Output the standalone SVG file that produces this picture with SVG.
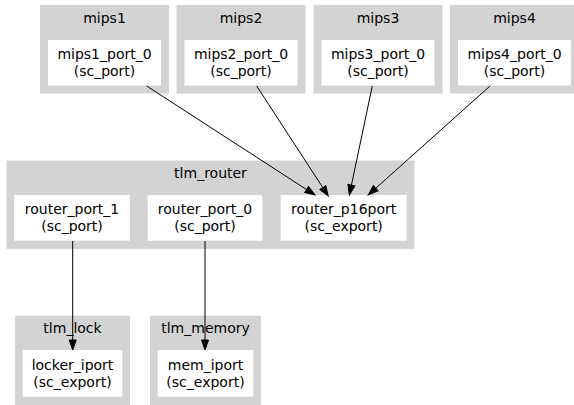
<svg xmlns="http://www.w3.org/2000/svg" width="574" height="405" viewBox="0 0 574 405">
  <style>
    .cluster { fill: #d3d3d3; stroke: none; }
    .port { fill: #ffffff; stroke: none; }
    text { font-family: "DejaVu Sans", "Liberation Sans", sans-serif; font-size: 14px; fill: #000000; text-anchor: middle; }
    .edge { fill: none; stroke: #000000; stroke-width: 1; }
  </style>
  <defs>
    <marker id="arrow" markerUnits="userSpaceOnUse" markerWidth="10" markerHeight="7" viewBox="0 -3.5 10 7" refX="0" refY="0" orient="auto" overflow="visible">
      <path d="M0,-3.5 L10,0 L0,3.5 z" fill="#000000" stroke="#000000" stroke-width="1"/>
    </marker>
  </defs>

  <!-- processor modules -->
  <g id="mips1">
    <rect class="cluster" x="40" y="5" width="129" height="88.5"/>
    <text x="104.5" y="23">mips1</text>
    <g id="mips1_port_0">
      <rect class="port" x="48" y="40" width="113" height="45.5"/>
      <text x="104.5" y="59.3">mips1_port_0</text>
      <text x="104.5" y="76">(sc_port)</text>
    </g>
  </g>
  <g id="mips2">
    <rect class="cluster" x="176.5" y="5" width="129" height="88.5"/>
    <text x="241" y="23">mips2</text>
    <g id="mips2_port_0">
      <rect class="port" x="184.5" y="40" width="113" height="45.5"/>
      <text x="241" y="59.3">mips2_port_0</text>
      <text x="241" y="76">(sc_port)</text>
    </g>
  </g>
  <g id="mips3">
    <rect class="cluster" x="313.5" y="5" width="129" height="88.5"/>
    <text x="378" y="23">mips3</text>
    <g id="mips3_port_0">
      <rect class="port" x="321.5" y="40" width="113" height="45.5"/>
      <text x="378" y="59.3">mips3_port_0</text>
      <text x="378" y="76">(sc_port)</text>
    </g>
  </g>
  <g id="mips4">
    <rect class="cluster" x="450" y="5" width="129" height="88.5"/>
    <text x="514.5" y="23">mips4</text>
    <g id="mips4_port_0">
      <rect class="port" x="458" y="40" width="113" height="45.5"/>
      <text x="514.5" y="59.3">mips4_port_0</text>
      <text x="514.5" y="76">(sc_port)</text>
    </g>
  </g>

  <!-- router -->
  <g id="tlm_router">
    <rect class="cluster" x="6.5" y="160.5" width="408" height="88.5"/>
    <text x="210.5" y="177.5">tlm_router</text>
    <g id="router_port_1">
      <rect class="port" x="14" y="195" width="116" height="45.7"/>
      <text x="72" y="214.4">router_port_1</text>
      <text x="72" y="231.2">(sc_port)</text>
    </g>
    <g id="router_port_0">
      <rect class="port" x="147.7" y="195" width="114.6" height="45.7"/>
      <text x="205" y="214.4">router_port_0</text>
      <text x="205" y="231.2">(sc_port)</text>
    </g>
    <g id="router_p16port">
      <rect class="port" x="280.7" y="195" width="126" height="45.7"/>
      <text x="343.7" y="214.4">router_p16port</text>
      <text x="343.7" y="231.2">(sc_export)</text>
    </g>
  </g>

  <!-- targets -->
  <g id="tlm_lock">
    <rect class="cluster" x="15" y="315.7" width="115" height="89.3"/>
    <text x="72.5" y="333">tlm_lock</text>
    <g id="locker_iport">
      <rect class="port" x="22.7" y="350" width="99.6" height="46.7"/>
      <text x="72.5" y="369.8">locker_iport</text>
      <text x="72.5" y="386.6">(sc_export)</text>
    </g>
  </g>
  <g id="tlm_memory">
    <rect class="cluster" x="150" y="315.7" width="111" height="89.3"/>
    <text x="205.5" y="333">tlm_memory</text>
    <g id="mem_iport">
      <rect class="port" x="157.7" y="350" width="95.6" height="46.7"/>
      <text x="205.5" y="369.8">mem_iport</text>
      <text x="205.5" y="386.6">(sc_export)</text>
    </g>
  </g>

  <!-- bindings -->
  <g id="connectors">
    <path class="edge" d="M146.7,86 L306.6,189.6" marker-end="url(#arrow)"/>
    <path class="edge" d="M256.7,86 L322.8,187.6" marker-end="url(#arrow)"/>
    <path class="edge" d="M372.3,86 L351.4,185.2" marker-end="url(#arrow)"/>
    <path class="edge" d="M490,86 L375.7,188.3" marker-end="url(#arrow)"/>
    <path class="edge" d="M72.7,241 L72.7,340" marker-end="url(#arrow)"/>
    <path class="edge" d="M205,241 L205,340" marker-end="url(#arrow)"/>
  </g>
</svg>
